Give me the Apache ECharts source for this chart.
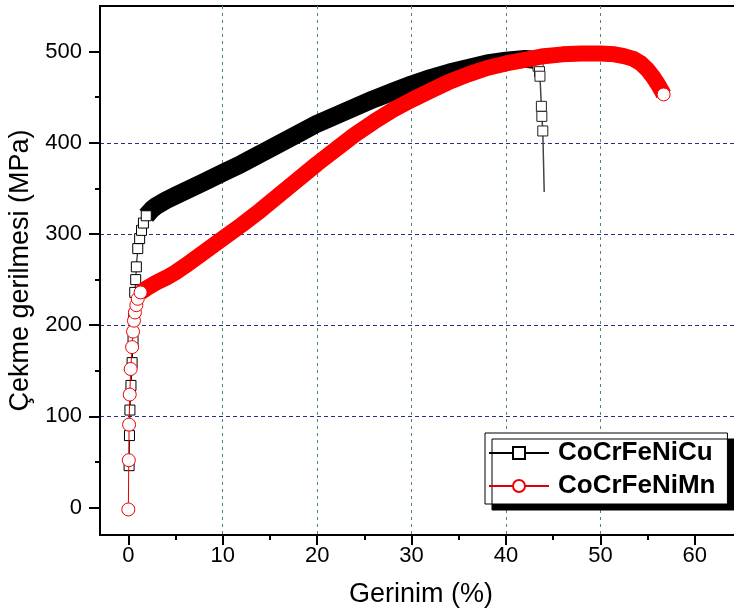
<!DOCTYPE html>
<html>
<head>
<meta charset="utf-8">
<script src="https://cdn.jsdelivr.net/npm/echarts@6/dist/echarts.min.js"></script>
<style>html,body{margin:0;padding:0;background:#fff}#c{width:734px;height:613px}</style>
</head>
<body>
<div id="c"></div>
<script>
// ---- data (strain %, stress MPa) ----
const seriesNames = ['CoCrFeNiCu', 'CoCrFeNiMn'];
const xTicks = [0, 10, 20, 30, 40, 50, 60];
const xMinorTicks = [5, 15, 25, 35, 45, 55];
const yTicks = [0, 100, 200, 300, 400, 500];
const yMinorTicks = [50, 150, 250, 350, 450];

// CoCrFeNiCu – elastic part (separate markers)
const cuElastic = [[0.08,46],[0.12,79],[0.17,107],[0.28,134],[0.4,159],[0.5,183],[0.58,210],[0.68,236],[0.78,250],[0.85,264],[1.0,284],[1.2,295],[1.4,304],[1.6,312],[1.9,320]];
// CoCrFeNiCu – dense plastic part (markers merge into a band)
const cuPlastic = [[1.9,320],[2.5,327],[3,331],[4,337],[5,342],[6,347],[8,357],[10,367],[12,377],[14,388],[16,399],[18,410],[20,421],[22,430],[24,439],[26,448],[28,456],[30,464],[32,471],[34,477],[36,482],[38,487],[40,490],[42,492],[43,491]];
// CoCrFeNiCu – fracture drop
const cuFracture = [[43,491],[43.4,484],[43.55,478],[43.6,473],[43.75,440],[43.8,429],[43.9,413],[44.05,346]];

// CoCrFeNiMn – elastic part
const mnElastic = [[0,-2],[0.05,52],[0.08,91],[0.15,124],[0.25,152],[0.4,176],[0.5,193],[0.6,205],[0.7,214],[0.85,222],[1.0,229],[1.3,236]];
// CoCrFeNiMn – dense plastic part
const mnPlastic = [[1.3,236],[2,241],[3,247],[4,252],[5,258],[6,265],[8,280],[10,295],[12,310],[14,326],[16,343],[18,360],[20,377],[22,393],[24,409],[26,423],[28,436],[30,447],[32,457],[34,467],[36,475],[38,482],[40,487],[42,491],[44,495],[46,497],[48,498],[50,498],[51.5,497],[52.5,495],[53.5,492],[54.3,487],[55,480],[55.6,472],[56.1,464],[56.5,457],[56.7,453]];

const FONT = 'Liberation Sans, Arial, sans-serif';
const chart = echarts.init(document.getElementById('c'), null, {renderer: 'canvas'});

const fractureData = cuFracture.map((p, i) => (i === 0 || i === cuFracture.length - 1) ? {value: p, symbol: 'none'} : p);
const mnEnd = [mnPlastic[mnPlastic.length - 1]];

chart.setOption({
  animation: false,
  backgroundColor: '#fff',
  grid: {left: 100, top: 6, width: 642, height: 529, show: true, borderColor: '#000', borderWidth: 2,
         backgroundColor: 'transparent', containLabel: false, outerBoundsMode: 'none'},
  legend: {
    data: seriesNames,
    orient: 'vertical',
    left: 485, top: 433,
    itemWidth: 60, itemHeight: 15, itemGap: 7,
    padding: [7, 12, 5, 3],
    backgroundColor: '#fff', borderColor: '#000', borderWidth: 1,
    shadowColor: '#000', shadowBlur: 0, shadowOffsetX: 7, shadowOffsetY: 6,
    textStyle: {fontFamily: FONT, fontSize: 26, fontWeight: 'bold', color: '#000', lineHeight: 26, padding: [0, 0, 0, 4]}
  },
  xAxis: [
    {
      type: 'value', min: -3, max: 65, minInterval: 10, maxInterval: 10, position: 'bottom',
      name: 'Gerinim (%)', nameLocation: 'middle', nameGap: 46,
      nameTextStyle: {fontFamily: FONT, fontSize: 27, color: '#000'},
      axisLine: {show: true, onZero: false, lineStyle: {color: '#000', width: 2}},
      axisTick: {show: true, inside: false, length: 10, customValues: xTicks, lineStyle: {color: '#000', width: 2}},
      axisLabel: {customValues: xTicks, fontFamily: FONT, fontSize: 22, color: '#000', margin: 10},
      splitLine: {show: true, showMinLine: false, showMaxLine: false, lineStyle: {color: '#4f8a68', type: [3, 4], width: 1}}
    },
    {
      type: 'value', min: -3, max: 65, position: 'bottom',
      axisLine: {show: false, onZero: false},
      axisTick: {show: true, inside: false, length: 5, customValues: xMinorTicks, lineStyle: {color: '#000', width: 2}},
      axisLabel: {show: false}, splitLine: {show: false}
    }
  ],
  yAxis: [
    {
      type: 'value', min: -30, max: 550, minInterval: 100, maxInterval: 100, position: 'left',
      name: 'Çekme gerilmesi (MPa)', nameLocation: 'middle', nameGap: 53,
      nameTextStyle: {fontFamily: FONT, fontSize: 27, color: '#000'},
      axisLine: {show: true, onZero: false, lineStyle: {color: '#000', width: 2}},
      axisTick: {show: true, inside: false, length: 11, customValues: yTicks, lineStyle: {color: '#000', width: 2}},
      axisLabel: {customValues: yTicks, fontFamily: FONT, fontSize: 22, color: '#000', margin: 18},
      splitLine: {show: true, showMinLine: false, showMaxLine: false, lineStyle: {color: '#2b2b80', type: [4, 3], width: 1}}
    },
    {
      type: 'value', min: -30, max: 550, position: 'left',
      axisLine: {show: false, onZero: false},
      axisTick: {show: true, inside: false, length: 5, customValues: yMinorTicks, lineStyle: {color: '#000', width: 2}},
      axisLabel: {show: false}, splitLine: {show: false}
    }
  ],
  series: [
    {name: 'CuBand', type: 'line', data: cuPlastic, showSymbol: false, symbol: 'none',
     lineStyle: {color: '#000', width: 18, join: 'round'}, z: 2, silent: true},
    {name: seriesNames[0], type: 'line', data: cuElastic, symbol: 'rect', symbolSize: 10,
     itemStyle: {color: '#fff', borderColor: '#000', borderWidth: 1},
     lineStyle: {color: '#000', width: 1}, z: 3},
    {name: 'CuFracture', type: 'line', data: fractureData, symbol: 'rect', symbolSize: 10,
     itemStyle: {color: '#fff', borderColor: '#222', borderWidth: 1},
     lineStyle: {color: '#444', width: 1.5}, z: 3},
    {name: 'MnBand', type: 'line', data: mnPlastic, showSymbol: false, symbol: 'none',
     lineStyle: {color: '#f00', width: 16, join: 'round'}, z: 4, silent: true},
    {name: seriesNames[1], type: 'line', data: mnElastic, symbol: 'circle', symbolSize: 13,
     itemStyle: {color: '#fff', borderColor: '#e00', borderWidth: 1},
     lineStyle: {color: '#d00', width: 1}, z: 5},
    {name: 'MnEnd', type: 'line', data: mnEnd, symbol: 'circle', symbolSize: 13,
     itemStyle: {color: '#fff', borderColor: '#e00', borderWidth: 1}, lineStyle: {width: 0}, z: 5}
  ]
});
</script>
</body>
</html>
